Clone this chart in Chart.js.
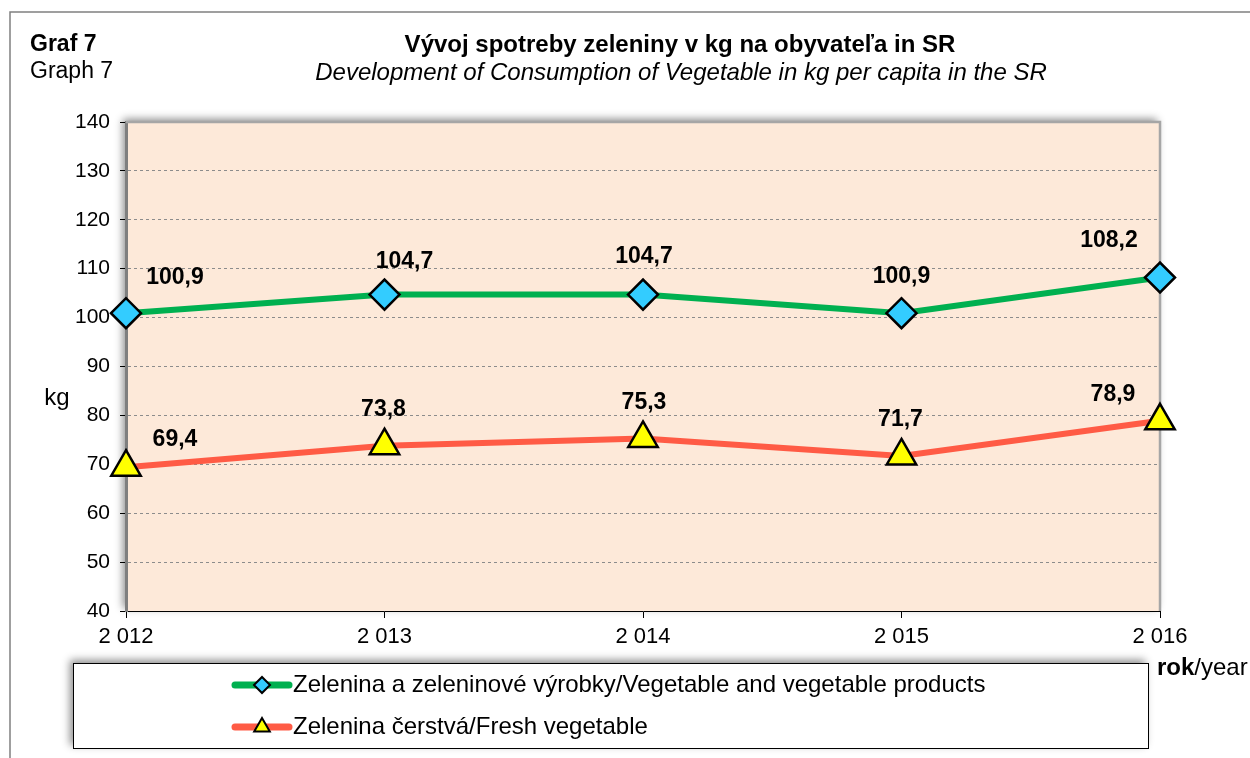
<!DOCTYPE html>
<html>
<head>
<meta charset="utf-8">
<script src="https://cdn.jsdelivr.net/npm/chart.js@4"></script>
<style>
  html, body { margin: 0; padding: 0; background: #fff; }
</style>
</head>
<body>
<canvas id="graf7" width="1250" height="758"></canvas>
<script>
// údaje z grafu
const years = ["2 012", "2 013", "2 014", "2 015", "2 016"];
const vegProducts = [100.9, 104.7, 104.7, 100.9, 108.2];
const freshVeg = [69.4, 73.8, 75.3, 71.7, 78.9];
const yMin = 40, yMax = 140, yStep = 10;

const seriesNames = [
    "Zelenina a zeleninové výrobky/Vegetable and vegetable products",
    "Zelenina čerstvá/Fresh vegetable"
];

const FONT = "'Liberation Sans', Arial, sans-serif";

// posun popiskov [dx, dy] voči bodu
const labelShift = [
    [[49, -36], [20, -33], [1, -38], [0, -37], [-51, -37]],
    [[49, -28], [-1, -36], [1, -36], [-1, -36], [-47, -26]]
];

const fmt = v => v.toFixed(1).replace(".", ",");

const framePlugin = {
    id: "frame",
    beforeDraw(chart) {
        const ctx = chart.ctx;
        const a = chart.chartArea;
        ctx.save();
        ctx.fillStyle = "#fff";
        ctx.fillRect(0, 0, chart.width, chart.height);

        // rám
        ctx.strokeStyle = "#808080";
        ctx.lineWidth = 1.5;
        ctx.beginPath();
        ctx.moveTo(10, 758);
        ctx.lineTo(10, 12);
        ctx.lineTo(1250, 12);
        ctx.stroke();

        // nadpisy
        ctx.fillStyle = "#000";
        ctx.textBaseline = "middle";
        ctx.textAlign = "left";
        ctx.font = "bold 23px " + FONT;
        ctx.fillText("Graf 7", 30, 45);
        ctx.font = "23px " + FONT;
        ctx.fillText("Graph 7", 30, 72);
        ctx.textAlign = "center";
        ctx.font = "bold 24px " + FONT;
        ctx.fillText("Vývoj spotreby zeleniny v kg na obyvateľa in SR", 680, 45);
        ctx.font = "italic 24px " + FONT;
        ctx.fillText("Development of Consumption of Vegetable in kg per capita in the SR", 681, 73);

        // pozadie plochy grafu s tieňom
        ctx.shadowColor = "rgba(0,0,0,0.45)";
        ctx.shadowBlur = 8;
        ctx.shadowOffsetX = -3;
        ctx.shadowOffsetY = -3;
        ctx.fillStyle = "#FDE9D9";
        ctx.fillRect(a.left, a.top, a.right - a.left, a.bottom - a.top);
        ctx.restore();
    },
    beforeDatasetsDraw(chart) {
        const ctx = chart.ctx;
        const a = chart.chartArea;
        ctx.save();
        ctx.strokeStyle = "#a6a6a6";
        ctx.lineWidth = 2.5;
        ctx.beginPath();
        ctx.moveTo(a.left, a.top);
        ctx.lineTo(a.right, a.top);
        ctx.lineTo(a.right, a.bottom);
        ctx.stroke();
        ctx.restore();
    },
    afterDatasetsDraw(chart) {
        const ctx = chart.ctx;
        ctx.save();
        ctx.font = "bold 23px " + FONT;
        ctx.fillStyle = "#000";
        ctx.textAlign = "center";
        ctx.textBaseline = "middle";
        chart.data.datasets.forEach((ds, i) => {
            chart.getDatasetMeta(i).data.forEach((pt, j) => {
                const s = labelShift[i][j];
                ctx.fillText(fmt(ds.data[j]), pt.x + s[0], pt.y + s[1]);
            });
        });
        ctx.restore();
    },
    afterDraw(chart) {
        const ctx = chart.ctx;
        ctx.save();
        ctx.fillStyle = "#000";
        ctx.textBaseline = "middle";

        ctx.font = "24px " + FONT;
        ctx.textAlign = "center";
        ctx.fillText("kg", 57, 398);

        ctx.textAlign = "left";
        ctx.font = "bold 24px " + FONT;
        ctx.fillText("rok", 1157, 668);
        const w = ctx.measureText("rok").width;
        ctx.font = "24px " + FONT;
        ctx.fillText("/year", 1157 + w, 668);

        // legenda
        const bx = 73, by = 663, bw = 1075, bh = 85;
        ctx.shadowColor = "rgba(0,0,0,0.45)";
        ctx.shadowBlur = 8;
        ctx.shadowOffsetX = -3;
        ctx.shadowOffsetY = -3;
        ctx.fillStyle = "#fff";
        ctx.fillRect(bx, by, bw, bh);
        ctx.shadowColor = "transparent";
        ctx.strokeStyle = "#000";
        ctx.lineWidth = 1;
        ctx.strokeRect(bx + 0.5, by + 0.5, bw, bh);

        const rows = [685, 727];
        chart.data.datasets.forEach((ds, i) => {
            const y = rows[i];
            ctx.strokeStyle = ds.borderColor;
            ctx.lineWidth = 7;
            ctx.lineCap = "round";
            ctx.beginPath();
            ctx.moveTo(235, y);
            ctx.lineTo(289, y);
            ctx.stroke();
            ctx.lineCap = "butt";
            ctx.fillStyle = ds.pointBackgroundColor;
            ctx.strokeStyle = "#000";
            ctx.lineWidth = 2;
            Chart.helpers.drawPoint(ctx, {pointStyle: ds.pointStyle, radius: i === 0 ? 8 : 9, borderWidth: 2, rotation: 0}, 262, y);
            ctx.fillStyle = "#000";
            ctx.font = "24px " + FONT;
            ctx.textAlign = "left";
            ctx.fillText(seriesNames[i], 293, y);
        });
        ctx.restore();
    }
};

new Chart(document.getElementById("graf7"), {
    type: "line",
    data: {
        labels: years,
        datasets: [
            {
                label: seriesNames[0],
                data: vegProducts,
                borderColor: "#00B050",
                borderWidth: 6,
                pointStyle: "rectRot",
                pointRadius: 15,
                pointHoverRadius: 15,
                pointBackgroundColor: "#33CCFF",
                pointBorderColor: "#000",
                pointBorderWidth: 2.5,
                tension: 0,
                clip: false
            },
            {
                label: seriesNames[1],
                data: freshVeg,
                borderColor: "#FF5B45",
                borderWidth: 6,
                pointStyle: "triangle",
                pointRadius: 17,
                pointHoverRadius: 17,
                pointBackgroundColor: "#FFFF00",
                pointBorderColor: "#000",
                pointBorderWidth: 2.5,
                tension: 0,
                clip: false
            }
        ]
    },
    options: {
        responsive: false,
        animation: false,
        events: [],
        layout: { padding: { left: 0, top: 122, right: 90, bottom: 107 } },
        plugins: {
            legend: { display: false },
            tooltip: { enabled: false }
        },
        scales: {
            x: {
                offset: false,
                grid: {
                    drawOnChartArea: false,
                    drawTicks: true,
                    tickLength: 7,
                    tickColor: "#000"
                },
                border: { color: "#000", width: 1 },
                ticks: {
                    color: "#000",
                    font: { family: FONT, size: 22 },
                    padding: 6,
                    maxRotation: 0
                },
                afterFit(scale) { scale.height = 40; }
            },
            y: {
                min: yMin,
                max: yMax,
                grid: {
                    color: "#8c8c8c",
                    lineWidth: 1,
                    tickColor: "#000",
                    tickLength: 6,
                    tickBorderDash: []
                },
                border: { color: "#7f7f7f", width: 3, dash: [3, 3] },
                ticks: {
                    stepSize: yStep,
                    color: "#000",
                    font: { family: FONT, size: 21 },
                    padding: 10
                },
                afterFit(scale) { scale.width = 126; }
            }
        }
    },
    plugins: [framePlugin]
});
</script>
</body>
</html>
